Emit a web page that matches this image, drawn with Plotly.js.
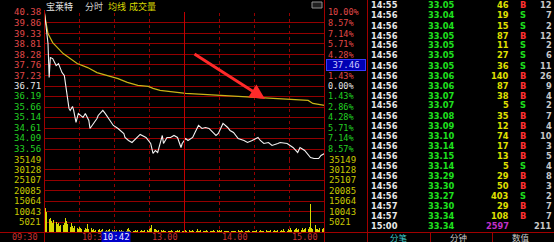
<!DOCTYPE html>
<html>
<head>
<meta charset="utf-8">
<script src="https://cdn.plot.ly/plotly-3.0.1.min.js"></script>
<style>html,body{margin:0;padding:0;background:#000;}#chart{width:554px;height:242px;}</style>
</head>
<body>
<div id="chart"></div>
<script>
// ---------------- DATA ----------------
const stockName = '宝莱特';
const preClose = 36.71;
const priceTicks = [40.38, 39.86, 39.33, 38.81, 38.28, 37.76, 37.23, 36.71, 36.19, 35.66, 35.14, 34.61, 34.09, 33.56];
const priceBottom = 33.04;
const pctLabels = ['10.00%', '8.57%', '7.14%', '5.71%', '4.28%', '2.86%', '1.43%', '0.00%', '1.43%', '2.86%', '4.28%', '5.71%', '7.14%', '8.57%'];
const cursorPrice = '37.46';
const cursorRow = 5;
const volTicks = [35149, 30128, 25107, 20085, 15064, 10043, 5021];
const timeTickMin = [0, 60, 120, 180, 240];
const timeTickLabels = ['09:30', '10:30', '13.00', '14.00', '15.00'];
const cursorTime = '10:42';
const cursorTimeMin = 72;

// price line (minute offset from 09:30, price)
const priceMin = [0, 2, 3, 4, 5, 7, 9, 10, 12, 14,
  15, 17, 19, 20, 21, 22, 24, 25, 27, 29,
  33, 35, 38, 39, 42, 45, 46, 50, 52, 55,
  57, 59, 63, 65, 68, 69, 72, 75, 78, 80,
  82, 87, 91, 93, 95, 97, 99, 101, 102, 105,
  108, 111, 114, 117, 118, 121, 123, 127, 129, 132,
  135, 138, 141, 144, 147, 149, 153, 157, 159, 162,
  166, 171, 174, 178, 183, 185, 188, 192, 195, 200,
  202, 208, 213, 217, 219, 223, 225, 228, 231, 235,
  237, 240];
const price = [40.38, 39.33, 38.83, 37.13, 38.13, 38.08, 37.88, 37.73, 37.83, 37.48,
  37.38, 37.23, 36.49, 35.99, 35.59, 35.49, 35.69, 35.49, 34.89, 35.34,
  35.14, 35.34, 34.99, 34.59, 34.84, 35.09, 35.24, 35.49, 35.34, 35.09,
  34.89, 34.74, 34.59, 34.49, 34.34, 34.14, 33.99, 33.89, 34.04, 34.14,
  34.29, 34.14, 33.84, 33.34, 33.49, 33.39, 33.84, 34.24, 33.84, 34.14,
  34.14, 34.24, 34.14, 33.64, 33.84, 34.09, 33.99, 34.14, 34.39, 34.74,
  34.59, 34.64, 34.59, 34.39, 34.24, 34.34, 34.84, 34.64, 34.49, 34.39,
  34.09, 33.99, 33.89, 33.99, 34.14, 33.99, 33.84, 33.89, 33.74, 33.84,
  33.89, 33.84, 33.64, 33.39, 33.64, 33.49, 33.34, 33.14, 33.09, 33.09,
  33.24, 33.34];

// average price line
const avgMin = [0, 1, 3, 7, 11, 16, 22, 28, 37, 45, 54, 63, 71, 80, 89, 93, 99, 121, 151, 181, 202, 219, 226, 230, 240];
const avgPrice = [40.30, 39.98, 39.33, 38.88, 38.63, 38.33, 38.08, 37.83, 37.63, 37.38, 37.23, 37.08, 36.89, 36.74, 36.69, 36.59, 36.49, 36.34, 36.24, 36.14, 36.09, 36.04, 35.99, 35.84, 35.74];

// volume per minute (index 0 = 09:30 ... 240 = 15:00)
const volume = [32260,
  11600, 9800, 8200, 6700, 7200, 5300, 4800, 5800, 4300, 5100,
  3900, 4400, 3300, 3800, 2900, 3400, 4700, 6800, 5600, 3900,
  3100, 2600, 4800, 3300, 2400, 2900, 4300, 2200, 1900, 2600,
  2100, 1500, 1800, 1200, 2400, 1600, 4200, 1900, 1400, 2300,
  1100, 1700, 900, 1300, 2000, 1000, 1500, 800, 1200, 1900,
  1000, 700, 1400, 900, 1100, 1600, 800, 1300, 700, 1000,
  900, 1300, 600, 1000, 800, 1400, 700, 900, 1200, 800,
  1500, 2200, 1100, 700, 1300, 900, 600, 1000, 800, 1200,
  700, 900, 1100, 600, 800, 1000, 700, 1300, 900, 1700,
  2400, 3600, 2800, 1500, 1900, 1100, 800, 1300, 900, 1200,
  700, 1000, 600, 900, 1400, 700, 800, 600, 1100, 700,
  900, 500, 800, 1200, 600, 1000, 700, 900, 500, 800,
  1100, 700, 900, 1300, 600, 800, 1000, 700, 1200, 900,
  1500, 800, 600, 1000, 700, 900, 500, 800, 1100, 600,
  700, 900, 500, 800, 1000, 600, 700, 1200, 800, 1400,
  900, 1100, 700, 600, 900, 500, 800, 600, 1000, 700,
  500, 800, 600, 900, 700, 1200, 800, 600, 1000, 700,
  500, 800, 600, 900, 1300, 700, 600, 900, 500, 800,
  700, 1000, 600, 800, 1200, 700, 900, 500, 800, 1100,
  600, 900, 700, 1300, 800, 600, 1000, 700, 900, 1400,
  800, 600, 1100, 700, 1600, 900, 1200, 700, 1500, 1000,
  2200, 1300, 2600, 1100, 1800, 2400, 1200, 1600, 1000, 1400,
  2000, 1100, 1700, 2300, 1300, 1900, 2600, 13500, 2100, 1600,
  2400, 3600, 1500, 1900, 1200, 2200, 1400, 1800, 2300, 1600];

// tick table
const tTime = ['14:55', '14:56', '14:56', '14:56', '14:56', '14:56', '14:56', '14:56', '14:56', '14:56', '14:56', '14:56',
  '14:56', '14:56', '14:56', '14:56', '14:56', '14:56', '14:56', '14:56', '14:57', '14:57', '15:00'];
const tPrice = ['33.05', '33.04', '33.04', '33.05', '33.05', '33.05', '33.05', '33.06', '33.06', '33.07', '33.07', '33.08',
  '33.09', '33.10', '33.14', '33.15', '33.14', '33.29', '33.30', '33.27', '33.30', '33.34', '33.34'];
const tVol = [46, 19, 15, 87, 11, 27, 36, 140, 87, 38, 5, 35, 12, 74, 17, 13, 5, 29, 50, 403, 29, 108, 2597];
const tSide = ['B', 'S', 'S', 'B', 'S', 'S', 'S', 'B', 'B', 'B', 'S', 'B', 'B', 'B', 'B', 'B', 'S', 'B', 'B', 'S', 'B', 'B', ''];
const tCount = [12, 7, 2, 12, 2, 6, 11, 26, 9, 4, 2, 7, 4, 10, 3, 5, 4, 8, 3, 2, 7, 7, 211];
const tabs = ['分笔', '分钟', '数值'];
const headerItems = ['分时', '均线', '成交量'];

// ---------------- LAYOUT HELPERS ----------------
const W = 554, H = 242;
const px = v => v / W;
const py = v => 1 - v / H;
const MONO = 'DejaVu Sans Mono, monospace';
const BOLD = 'DejaVu Sans, sans-serif';
const CJK = 'Noto Sans CJK SC, sans-serif';
const GRID = '#940000';
const RED = '#e04848', GREEN = '#22d022', WHITE = '#e6e6e6';

const traces = [
  {
    type: 'bar', x: volume.map((_, i) => i), y: volume, xaxis: 'x', yaxis: 'y2',
    width: 0.72,
    marker: {color: volume.map((_, i) => i === 0 ? '#f08a1c' : '#d8d800'), line: {width: 0}},
    hoverinfo: 'skip'
  },
  {
    type: 'scatter', mode: 'lines', x: avgMin, y: avgPrice, xaxis: 'x', yaxis: 'y',
    line: {color: '#c8b418', width: 1.2}, hoverinfo: 'skip'
  },
  {
    type: 'scatter', mode: 'lines', x: priceMin, y: price, xaxis: 'x', yaxis: 'y',
    line: {color: '#f2f2f2', width: 1.1}, hoverinfo: 'skip'
  }
];

const ann = [];
const lab = (o) => Object.assign({showarrow: false, borderpad: 0}, o);
// left price labels and right pct labels
priceTicks.forEach((p, i) => {
  const c = p > preClose ? RED : (p < preClose ? GREEN : WHITE);
  ann.push(lab({xref: 'paper', yref: 'y', x: px(42), y: p, xanchor: 'right', yanchor: 'middle',
    text: p.toFixed(2), font: {family: MONO, size: 9, color: c}}));
  if (i === cursorRow) {
    ann.push(lab({xref: 'paper', yref: 'y', x: px(345.5), y: p, xanchor: 'center', yanchor: 'middle',
      text: cursorPrice, bgcolor: '#0000b4', bordercolor: '#3a3aff', borderwidth: 1,
      width: 38, font: {family: MONO, size: 9, color: '#c8c8ff'}}));
  } else {
    ann.push(lab({xref: 'paper', yref: 'y', x: px(327), y: p, xanchor: 'left', yanchor: 'middle',
      text: pctLabels[i], font: {family: MONO, size: 8.5, color: c}}));
  }
});
// volume labels (both sides)
volTicks.forEach(v => {
  ann.push(lab({xref: 'paper', yref: 'y2', x: px(42), y: v, xanchor: 'right', yanchor: 'middle',
    text: String(v), font: {family: MONO, size: 9, color: '#c8c800'}}));
  ann.push(lab({xref: 'paper', yref: 'y2', x: px(328), y: v, xanchor: 'left', yanchor: 'middle',
    text: String(v), font: {family: MONO, size: 9, color: '#c8c800'}}));
});
// time labels
timeTickMin.forEach((m, i) => {
  ann.push(lab({xref: 'x', yref: 'paper', x: m, y: py(237), xanchor: 'right', yanchor: 'middle', xshift: -6,
    text: timeTickLabels[i], font: {family: MONO, size: 8.5, color: '#c83232'}}));
});
ann.push(lab({xref: 'x', yref: 'paper', x: cursorTimeMin, y: py(237), xanchor: 'right', yanchor: 'middle', xshift: 2,
  text: cursorTime, bgcolor: '#0000c8', width: 28,
  font: {family: MONO, size: 9, color: '#e8e8ff'}}));
// header
ann.push(lab({xref: 'paper', yref: 'paper', x: px(45), y: py(6), xanchor: 'left', yanchor: 'middle',
  text: stockName, font: {family: CJK, size: 9, color: '#e8e8e8'}}));
const headerX = [84, 107, 128];
const headerC = ['#d0d0d0', '#d8d800', '#d8d800'];
headerItems.forEach((h, i) => {
  ann.push(lab({xref: 'paper', yref: 'paper', x: px(headerX[i]), y: py(6), xanchor: 'left', yanchor: 'middle',
    text: h, font: {family: CJK, size: 9, color: headerC[i]}}));
});
// red arrow
ann.push({xref: 'paper', yref: 'paper', x: px(265), y: py(99), ax: -72, ay: -46,
  showarrow: true, arrowhead: 2, arrowsize: 1, arrowwidth: 3, arrowcolor: '#ff2a2a', text: ''});
// tick table
tTime.forEach((t, i) => {
  const y = py(5.5 + 10 * i);
  const f = (c) => ({family: BOLD, size: 8.3, color: c, weight: 'bold'});
  ann.push(lab({xref: 'paper', yref: 'paper', x: px(370), y, xanchor: 'left', yanchor: 'middle', text: t, font: f('#e8e8e8')}));
  ann.push(lab({xref: 'paper', yref: 'paper', x: px(427), y, xanchor: 'left', yanchor: 'middle', text: tPrice[i], font: f('#1ee01e')}));
  ann.push(lab({xref: 'paper', yref: 'paper', x: px(510), y, xanchor: 'right', yanchor: 'middle', text: String(tVol[i]),
    font: f(i === tTime.length - 1 ? '#c030c8' : '#e0e000')}));
  if (tSide[i]) ann.push(lab({xref: 'paper', yref: 'paper', x: px(519), y, xanchor: 'left', yanchor: 'middle', text: tSide[i],
    font: f(tSide[i] === 'B' ? '#ff3030' : '#1ee01e')}));
  ann.push(lab({xref: 'paper', yref: 'paper', x: px(553), y, xanchor: 'right', yanchor: 'middle', text: String(tCount[i]), font: f('#c8c8c8')}));
});
const tabX = [399, 458, 521];
const tabC = ['#3cc8c8', '#c8c8c8', '#c8c8c8'];
tabs.forEach((t, i) => {
  ann.push(lab({xref: 'paper', yref: 'paper', x: px(tabX[i]), y: py(236.5), xanchor: 'center', yanchor: 'middle',
    text: t, font: {family: CJK, size: 8.5, color: tabC[i]}}));
});

const shapes = [
  {type: 'line', xref: 'paper', yref: 'paper', x0: 0, x1: 1, y0: py(232.5), y1: py(232.5), line: {color: '#a00000', width: 1}},
  {type: 'line', xref: 'paper', yref: 'paper', x0: px(44.5), x1: px(44.5), y0: py(10), y1: 0, line: {color: '#a00000', width: 1}},
  {type: 'line', xref: 'paper', yref: 'paper', x0: px(324.5), x1: px(324.5), y0: 1, y1: 0, line: {color: '#a00000', width: 1}},
  {type: 'line', xref: 'paper', yref: 'paper', x0: px(367.5), x1: px(367.5), y0: 1, y1: 0, line: {color: '#a00000', width: 1}},
  {type: 'line', xref: 'x', yref: 'paper', x0: 120, x1: 120, y0: py(232), y1: py(12), line: {color: '#c00000', width: 1}},
  {type: 'line', xref: 'paper', yref: 'paper', x0: px(430.5), x1: px(430.5), y0: py(232), y1: 0, line: {color: '#a00000', width: 1}},
  {type: 'line', xref: 'paper', yref: 'paper', x0: px(492.5), x1: px(492.5), y0: py(232), y1: 0, line: {color: '#a00000', width: 1}},
  {type: 'rect', xref: 'paper', yref: 'paper', x0: px(312), x1: px(322), y0: py(8), y1: py(2), line: {color: '#909090', width: 1}, fillcolor: '#202020'}
];

const layout = {
  width: W, height: H, margin: {l: 0, r: 0, t: 0, b: 0, pad: 0},
  paper_bgcolor: '#000', plot_bgcolor: '#000', showlegend: false, bargap: 0,
  xaxis: {domain: [px(44.5), px(324.5)], range: [0, 240], tickvals: [0, 30, 60, 90, 120, 150, 180, 210, 240],
    showgrid: true, gridcolor: GRID, griddash: 'dot', gridwidth: 1, showticklabels: false, zeroline: false, ticks: '', showline: false, fixedrange: true},
  yaxis: {domain: [py(159.5), py(12.5)], range: [priceBottom, priceTicks[0]], tickvals: priceTicks.concat([priceBottom]),
    showgrid: true, gridcolor: GRID, gridwidth: 1, showticklabels: false, zeroline: false, ticks: '', showline: false, fixedrange: true},
  yaxis2: {domain: [py(232.5), py(159.5)], range: [0, volTicks[0]], tickvals: volTicks, anchor: 'x',
    showgrid: true, gridcolor: GRID, gridwidth: 1, showticklabels: false, zeroline: false, ticks: '', showline: false, fixedrange: true},
  annotations: ann,
  shapes: shapes
};

Plotly.newPlot('chart', traces, layout, {staticPlot: true, displayModeBar: false});
</script>
</body>
</html>
